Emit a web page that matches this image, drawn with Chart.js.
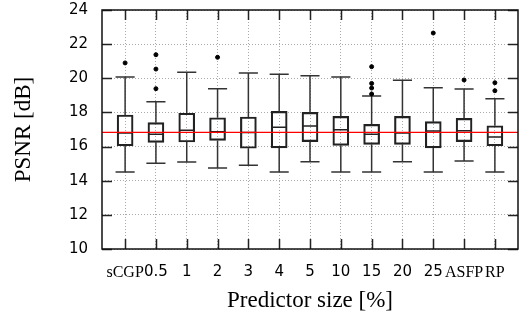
<!DOCTYPE html>
<html>
<head>
<meta charset="utf-8">
<script src="https://cdn.jsdelivr.net/npm/chart.js@4"></script>
<style>
html,body{margin:0;padding:0;background:#fff;}
#wrap{width:524px;height:322px;}
</style>
</head>
<body>
<div id="wrap"><canvas id="c" width="524" height="322"></canvas></div>
<script>
// ---- data ----
const categories = ['sCGP','0.5','1','2','3','4','5','10','15','20','25','ASFP','RP'];
const whiskerLow  = [14.51,15.02,15.10,14.74,14.90,14.51,15.11,14.51,14.51,15.11,14.51,15.15,14.51];
const quartile1   = [16.05,16.25,16.27,16.36,15.90,15.92,16.29,16.07,16.13,16.13,15.92,16.29,16.05];
const medians     = [16.79,16.72,16.95,16.87,16.83,17.13,17.20,16.99,16.72,16.79,16.91,16.93,16.56];
const quartile3   = [17.85,17.40,17.95,17.69,17.73,18.06,18.00,17.77,17.30,17.77,17.46,17.65,17.22];
const whiskerHigh = [20.08,18.63,20.35,19.39,20.31,20.23,20.15,20.08,18.96,19.88,19.45,19.37,18.80];
const outliers    = [[20.90],[21.38,20.54,19.39],[],[21.23],[],[],[],[],[20.68,19.70,19.43,19.08],[],[22.65],[19.90],[19.74,19.27]];
const referenceLevel = 16.83;
const yTicks = [10,12,14,16,18,20,22,24];
const textLabels = ['sCGP','ASFP','RP'];

// ---- derived datasets ----
const boxData = categories.map((_, i) => ({x: i, y: [quartile1[i], quartile3[i]]}));
const whiskerData = [];
const capHalf = 0.31, medHalf = 0.25;
categories.forEach((_, i) => {
  whiskerData.push({x: i, y: whiskerLow[i]}, {x: i, y: quartile1[i]}, {x: i, y: null});
  whiskerData.push({x: i, y: quartile3[i]}, {x: i, y: whiskerHigh[i]}, {x: i, y: null});
  whiskerData.push({x: i - capHalf, y: whiskerLow[i]}, {x: i + capHalf, y: whiskerLow[i]}, {x: i, y: null});
  whiskerData.push({x: i - capHalf, y: whiskerHigh[i]}, {x: i + capHalf, y: whiskerHigh[i]}, {x: i, y: null});
});
const medianData = [];
categories.forEach((_, i) => {
  medianData.push({x: i - medHalf, y: medians[i]}, {x: i + medHalf, y: medians[i]}, {x: i, y: null});
});
const outlierData = [];
outliers.forEach((arr, i) => arr.forEach(v => outlierData.push({x: i, y: v})));
const xMin = -0.75, xMax = categories.length - 0.25;

const inwardTicks = {
  id: 'inwardTicks',
  afterDatasetsDraw(chart) {
    const {ctx, chartArea: a, scales: {x, y}} = chart;
    ctx.save();
    ctx.strokeStyle = '#222';
    ctx.lineWidth = 1.5;
    ctx.beginPath();
    yTicks.forEach(v => {
      const py = Math.round(y.getPixelForValue(v)) + 0.5;
      ctx.moveTo(a.left, py); ctx.lineTo(a.left + 10, py);
      ctx.moveTo(a.right, py); ctx.lineTo(a.right - 10, py);
    });
    categories.forEach((_, i) => {
      const px = Math.round(x.getPixelForValue(i)) + 0.5;
      ctx.moveTo(px, a.top); ctx.lineTo(px, a.top + 10);
      ctx.moveTo(px, a.bottom); ctx.lineTo(px, a.bottom - 10);
    });
    ctx.stroke();
    ctx.lineWidth = 1.5;
    ctx.strokeStyle = '#111';
    ctx.strokeRect(a.left, a.top, a.right - a.left, a.bottom - a.top);
    ctx.restore();
  }
};

new Chart(document.getElementById('c'), {
  data: {
    datasets: [
      {type: 'line', data: [{x: xMin, y: referenceLevel}, {x: xMax, y: referenceLevel}],
       borderColor: '#ff0000', borderWidth: 1.3, pointRadius: 0, order: 0},
      {type: 'scatter', data: outlierData, backgroundColor: '#000', borderColor: '#000',
       pointRadius: 2, order: 1},
      {type: 'line', data: medianData, borderColor: '#222', borderWidth: 1.5, pointRadius: 0,
       spanGaps: false, order: 2},
      {type: 'line', data: whiskerData, borderColor: '#333', borderWidth: 1.5, pointRadius: 0,
       spanGaps: false, order: 3},
      {type: 'bar', data: boxData, backgroundColor: 'rgba(255,255,255,0)', borderColor: '#222',
       borderWidth: 1.5, borderSkipped: false, barThickness: 16, grouped: false, order: 4}
    ]
  },
  options: {
    responsive: false,
    animation: false,
    layout: {padding: {top: 10, right: 6, left: 0, bottom: 0}},
    plugins: {legend: {display: false}, tooltip: {enabled: false}},
    scales: {
      x: {
        type: 'linear', min: xMin, max: xMax, offset: false,
        afterBuildTicks: s => { s.ticks = categories.map((_, i) => ({value: i})); },
        afterFit: s => { s.height = 73; s.paddingLeft = 0; s.paddingRight = 0; },
        border: {display: false, dash: [1, 2]},
        grid: {color: '#aaa', lineWidth: 1, drawTicks: false, offset: false},
        ticks: {
          autoSkip: false, maxRotation: 0, padding: 14, color: '#000',
          callback: v => categories[v],
          font: ctx => {
            const lab = ctx.tick ? categories[ctx.tick.value] : '';
            return textLabels.includes(lab)
              ? {family: 'Liberation Serif', size: 16}
              : {family: 'DejaVu Sans', size: 15};
          }
        },
        title: {display: true, text: 'Predictor size [%]', color: '#000',
                font: {family: 'Liberation Serif', size: 23}, padding: {top: 4, bottom: 7}}
      },
      y: {
        min: 10, max: 24,
        afterBuildTicks: s => { s.ticks = yTicks.map(v => ({value: v})); },
        afterFit: s => { s.width = 102; s.paddingTop = 0; s.paddingBottom = 0; },
        border: {display: false, dash: [1, 2]},
        grid: {color: '#aaa', lineWidth: 1, drawTicks: false},
        ticks: {padding: 14, color: '#000', font: {family: 'DejaVu Sans', size: 15}},
        title: {display: true, text: 'PSNR [dB]', color: '#000',
                font: {family: 'Liberation Serif', size: 23}, padding: {top: 10, bottom: 0}}
      }
    }
  },
  plugins: [inwardTicks]
});
</script>
</body>
</html>
